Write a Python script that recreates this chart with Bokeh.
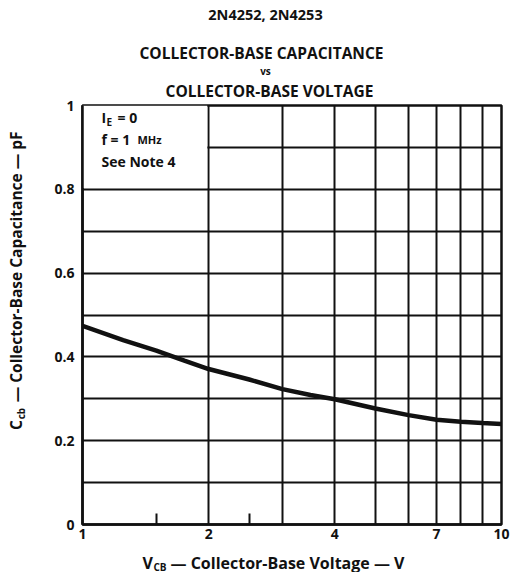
import math
from bokeh.plotting import figure
from bokeh.layouts import column, row
from bokeh.models import Range1d, FixedTicker, Label, BoxAnnotation, Title
from bokeh.core.properties import value
from bokeh.embed import file_html
from bokeh.resources import INLINE

# ---- data ----
vcb = [1, 1.25, 1.5, 1.75, 2, 2.5, 3, 3.5, 4, 5, 6, 7, 8, 9, 10]
ccb = [0.474, 0.440, 0.415, 0.391, 0.371, 0.346, 0.323, 0.309, 0.299, 0.277,
       0.261, 0.250, 0.245, 0.242, 0.240]
x_ticks = [1, 2, 4, 7, 10]
x_grid = [1, 2, 3, 4, 5, 6, 7, 8, 9, 10]
x_minor = [1.5, 2.5]
y_ticks = [0, 0.2, 0.4, 0.6, 0.8, 1.0]
y_tick_labels = ["0", "0.2", "0.4", "0.6", "0.8", "1"]
y_grid = [0, 0.1, 0.2, 0.3, 0.4, 0.5, 0.6, 0.7, 0.8, 0.9, 1.0]

FONT = "Open Sans"
INK = "#111111"
TOP = 78  # height of the title strip


def blank(w, h, xr, yr):
    f = figure(width=w, height=h, x_range=xr, y_range=yr,
               output_backend="svg", toolbar_location=None,
               x_axis_location=None, y_axis_location=None,
               min_border=0, min_border_left=0, min_border_right=0,
               min_border_top=0, min_border_bottom=0)
    f.grid.visible = False
    f.outline_line_color = None
    f.background_fill_color = "white"
    f.border_fill_color = "white"
    return f


def txt(f, x, y, s, size, align="left", style="bold", angle=0.0, base="middle"):
    f.text(x=[x], y=[y], text=[s], text_font=value(FONT),
           text_font_size=value(size), text_font_style=style,
           text_color=INK, text_align=align, text_baseline=base, angle=angle)


# ---- title strip (page coordinates, y downward) ----
tf = blank(510, TOP, Range1d(0, 510), Range1d(TOP, 0))
txt(tf, 265, 14, "2N4252, 2N4253", "14.5px", align="center")
txt(tf, 261, 52, "COLLECTOR-BASE CAPACITANCE", "15.5px", align="center")
txt(tf, 265, 70, "vs", "10px", align="center")

# ---- main chart ----
p = figure(width=470, height=572 - TOP - 24, x_axis_type="log",
           x_range=Range1d(1, 10), y_range=Range1d(0, 1),
           output_backend="svg", toolbar_location=None,
           min_border_left=42, min_border_right=9,
           min_border_top=104 - TOP, min_border_bottom=24)
p.background_fill_color = "white"
p.border_fill_color = "white"
p.outline_line_color = INK
p.outline_line_width = 2.5

p.add_layout(Title(text="COLLECTOR-BASE VOLTAGE", align="left", offset=83,
                   standoff=3, vertical_align="top",
                   text_font=FONT, text_font_size="15.5px",
                   text_font_style="bold", text_color=INK), "above")

p.xgrid.ticker = FixedTicker(ticks=x_grid)
p.ygrid.ticker = FixedTicker(ticks=y_grid)
for g in (p.xgrid, p.ygrid):
    g.grid_line_color = INK
    g.grid_line_width = 2
    g.grid_line_alpha = 1

p.xaxis.ticker = FixedTicker(ticks=x_ticks, minor_ticks=x_minor)
p.xaxis.major_label_overrides = {t: str(t) for t in x_ticks}
p.yaxis.ticker = FixedTicker(ticks=y_ticks)
p.yaxis.major_label_overrides = dict(zip(y_ticks, y_tick_labels))
for ax in (p.xaxis, p.yaxis):
    ax.axis_line_color = INK
    ax.axis_line_width = 2.5
    ax.major_tick_in = 0
    ax.major_tick_out = 0
    ax.major_label_text_font = FONT
    ax.major_label_text_font_style = "bold"
    ax.major_label_text_font_size = "14px"
    ax.major_label_text_color = INK
p.xaxis.minor_tick_in = 11
p.xaxis.minor_tick_out = 0
p.xaxis.minor_tick_line_color = INK
p.xaxis.minor_tick_line_width = 2
p.yaxis.minor_tick_line_color = None
p.xaxis.major_label_standoff = 4
p.yaxis.major_label_standoff = 8

box = BoxAnnotation(left=1, right=1.985, bottom=0.803, top=1.0,
                    fill_color="white", fill_alpha=1.0, line_alpha=0,
                    level="underlay")
p.add_layout(box)

p.line(vcb, ccb, line_color=INK, line_width=4.5)


def lab(text, x, y, size="14px"):
    p.add_layout(Label(x=x, y=y, x_units="screen", y_units="screen", text=text,
                       text_font=FONT, text_font_size=size, text_font_style="bold",
                       text_color=INK, text_align="left", text_baseline="middle"))


lab("I", 19, 407)
lab("E", 24, 403, "10px")
lab("= 0", 35, 407)
lab("f = 1", 19, 385)
lab("MHz", 55, 385, "11px")
lab("See Note 4", 19, 363)

# ---- y-axis title strip (page coords) ----
yf = blank(40, 572 - TOP - 24, Range1d(0, 40), Range1d(548, TOP))
txt(yf, 15, 442, "C", "15.5px", angle=math.pi / 2)
txt(yf, 20, 430, "cb", "10px", angle=math.pi / 2)
txt(yf, 15, 411, "— Collector-Base Capacitance — pF", "15.5px", angle=math.pi / 2)

# ---- x-axis title strip (page coords) ----
xf = blank(510, 24, Range1d(0, 510), Range1d(572, 548))
txt(xf, 142, 562, "V", "16px")
txt(xf, 153, 566, "CB", "10px")
txt(xf, 170, 562, "— Collector-Base Voltage — V", "16px")

layout = column(tf, row(yf, p), xf)
open("out.html", "w").write(file_html(layout, INLINE))
